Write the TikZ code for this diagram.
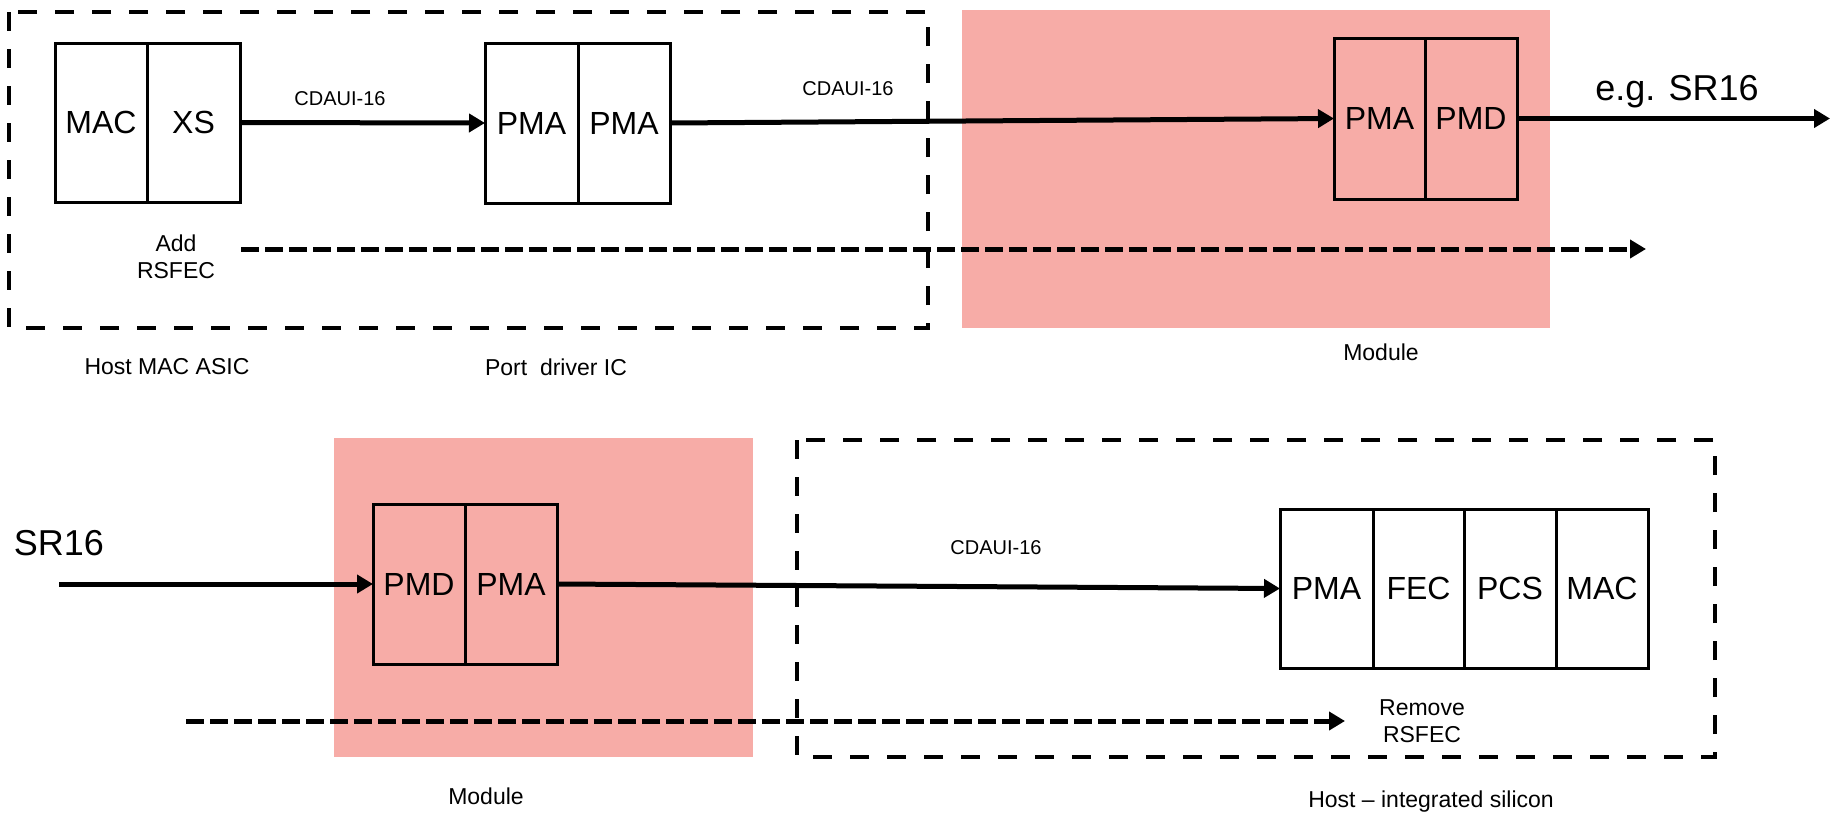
\documentclass[tikz,border=0pt]{standalone}
\usepackage{fontspec}
\setmainfont{Liberation Sans}
\usetikzlibrary{arrows.meta}
\definecolor{modpink}{RGB}{247,172,167}
\begin{document}
\begin{tikzpicture}[x=0.5pt,y=-0.5pt,
  cell/.style={draw=black,line width=1.5pt,inner sep=0pt,outer sep=0pt,minimum height=#1,font=\fontsize{16}{18}\selectfont},
  cell/.default=80pt,
  sig/.style={line width=2.5pt,-{Triangle[length=8pt,width=9pt]}},
  dsig/.style={line width=2.5pt,dash pattern=on 9pt off 3pt,-{Triangle[length=8pt,width=9pt]}},
  dashbox/.style={draw=black,line width=2pt,dash pattern=on 9.5pt off 9pt},
  modbox/.style={fill=modpink,draw=none},
  lbl/.style={inner sep=0pt,font=\fontsize{11.5}{13.5}\selectfont,align=center},
  small/.style={inner sep=0pt,font=\fontsize{10}{12}\selectfont},
  big/.style={inner sep=0pt,font=\fontsize{18}{20}\selectfont}]
\useasboundingbox (0,0) rectangle (1837,815);
% module backgrounds
\fill[modbox] (962,10) rectangle (1550,328);
\fill[modbox] (334,438) rectangle (753,757);
% dashed host boxes
\draw[dashbox] (9,12) rectangle (928,328);
\draw[dashbox] (797,440) rectangle (1715,757);
% top row cells
\node[cell=79.5pt,minimum width=46pt] (mac) at (101,122.5) {MAC};
\node[cell=79.5pt,minimum width=46.5pt] (xs) at (193.5,122.5) {XS};
\node[cell=80pt,minimum width=46.5pt] (pa) at (531.5,123) {PMA};
\node[cell=80pt,minimum width=46pt] (pb) at (624,123) {PMA};
\node[cell=80.5pt,minimum width=45.5pt] (mpma) at (1379.5,118.5) {PMA};
\node[cell=80.5pt,minimum width=46pt] (mpmd) at (1471,118.5) {PMD};
% bottom row cells
\node[cell=80pt,minimum width=46pt] (rpmd) at (419,584) {PMD};
\node[cell=80pt,minimum width=46pt] (rpma) at (511,584) {PMA};
\node[cell=79.5pt,minimum width=46.5pt] (hpma) at (1326.5,588.5) {PMA};
\node[cell=79.5pt,minimum width=45.5pt] (hfec) at (1418.5,588.5) {FEC};
\node[cell=79.5pt,minimum width=46pt] (hpcs) at (1510,588.5) {PCS};
\node[cell=79.5pt,minimum width=46pt] (hmac) at (1602,588.5) {MAC};
% free ends
\coordinate (out) at (1830,118.5);
\coordinate (inp) at (59,584);
\coordinate (fs) at (241,249);
\coordinate (fe) at (1646,249);
\coordinate (rs) at (186,721);
\coordinate (re) at (1345,721);
% connectors
\draw[sig] (xs.east) -- (pa.west);
\draw[sig] (pb.east) -- (mpma.west);
\draw[sig] (mpmd.east) -- (out);
\draw[sig] (inp) -- (rpmd.west);
\draw[sig] (rpma.east) -- (hpma.west);
\draw[dsig] (fs) -- (fe);
\draw[dsig] (rs) -- (re);
% labels
\node[small] (l1) at (340,99) {CDAUI-16};
\node[small] (l2) at (848,89) {CDAUI-16};
\node[small] (l3) at (996,548) {CDAUI-16};
\node[big] (eg) at (1677,92) {e.g. SR16};
\node[big] (sr) at (59,543) {SR16};
\node[lbl] (add) at (176,256.5) {Add\\RSFEC};
\node[lbl] (rem) at (1422,721) {Remove\\RSFEC};
\node[lbl] (host) at (167,367) {Host MAC ASIC};
\node[lbl] (port) at (556,367) {Port\ \ driver IC};
\node[lbl] (mod1) at (1381,352) {Module};
\node[lbl] (mod2) at (486,796) {Module};
\node[lbl] (hint) at (1431,802) {Host – integrated silicon};
\end{tikzpicture}
\end{document}
